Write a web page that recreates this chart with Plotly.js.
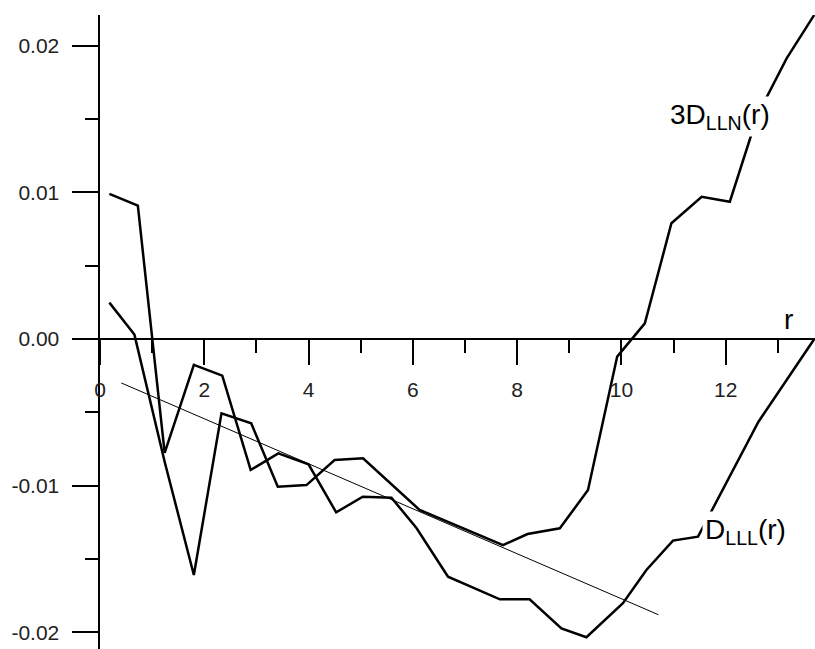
<!DOCTYPE html>
<html>
<head>
<meta charset="utf-8">
<script src="https://cdn.plot.ly/plotly-3.0.1.min.js"></script>
<style>html,body{margin:0;padding:0;background:#fff;}#chart{width:815px;height:649px;}</style>
</head>
<body>
<div id="chart"></div>
<script>
// D_LLL(r)
const rLLL = [0.18, 0.726, 1.24, 1.80, 2.345, 2.89, 3.42, 4.00, 4.53, 5.04, 5.59, 6.07, 6.675, 7.67, 8.24, 8.85, 9.33, 10.03, 10.48, 10.99, 11.47, 12.63, 13.70];
const dLLL = [0.00989, 0.00909, -0.00777, -0.00177, -0.0025, -0.00893, -0.0078, -0.00855, -0.01182, -0.01075, -0.01082, -0.01289, -0.01621, -0.01775, -0.01775, -0.01973, -0.02034, -0.01802, -0.01575, -0.01375, -0.01348, -0.00564, 0.0];
// 3D_LLN(r)
const rLLN = [0.18, 0.66, 1.24, 1.80, 2.33, 2.90, 3.41, 3.96, 4.50, 5.045, 6.13, 7.73, 8.20, 8.82, 9.36, 9.92, 10.45, 10.96, 11.54, 12.08, 12.62, 13.17, 13.70];
const dLLN = [0.00248, 0.0003, -0.00837, -0.01609, -0.00507, -0.00575, -0.01007, -0.00996, -0.00825, -0.00813, -0.01166, -0.01405, -0.0133, -0.01291, -0.0103, -0.0012, 0.00107, 0.00789, 0.0097, 0.00936, 0.01534, 0.01914, 0.0221];
// linear fit
const rFit = [0.41, 10.71];
const dFit = [-0.0030, -0.0188];

const xTickVals = [0, 2, 4, 6, 8, 10, 12];
const xTickText = ['0', '2', '4', '6', '8', '10', '12'];
const xMinorVals = [1, 3, 5, 7, 9, 11, 13];
const yTickVals = [-0.02, -0.01, 0, 0.01, 0.02];
const yTickText = ['-0.02', '-0.01', '0.00', '0.01', '0.02'];
const yMinorVals = [-0.015, -0.005, 0.005, 0.015];

const xRange = [0, 13.714];
const yRange = [-0.021139, 0.022093];
const xAxisPos = (0 - yRange[0]) / (yRange[1] - yRange[0]);

const FONT = 'Arial, "Liberation Sans", sans-serif';

const traces = [
  {x: rLLL, y: dLLL, mode: 'lines', line: {color: '#000', width: 2.5}, name: 'D_LLL', hoverinfo: 'skip'},
  {x: rLLN, y: dLLN, mode: 'lines', line: {color: '#000', width: 2.5}, name: '3D_LLN', hoverinfo: 'skip'},
  {x: rFit, y: dFit, mode: 'lines', line: {color: '#000', width: 1}, name: 'fit', hoverinfo: 'skip'}
];

const layout = {
  width: 815, height: 649,
  margin: {l: 100, r: 0, t: 15, b: 0, pad: 0},
  paper_bgcolor: '#fff', plot_bgcolor: '#fff',
  showlegend: false,
  font: {family: FONT, color: '#000'},
  xaxis: {
    range: xRange, anchor: 'free', position: xAxisPos,
    showgrid: false, zeroline: false,
    showline: true, linecolor: '#000', linewidth: 2.5,
    ticks: 'outside', ticklen: 25, tickwidth: 2, tickcolor: '#000',
    tickvals: xTickVals, ticktext: xTickText,
    tickfont: {family: FONT, size: 21, color: '#222'},
    ticklabelstandoff: 6,
    minor: {tickvals: xMinorVals, ticks: 'outside', ticklen: 13, tickwidth: 2, tickcolor: '#000', showgrid: false}
  },
  yaxis: {
    range: yRange,
    showgrid: false, zeroline: false,
    showline: true, linecolor: '#000', linewidth: 2.5,
    ticks: 'outside', ticklen: 26, tickwidth: 2, tickcolor: '#000',
    tickvals: yTickVals, ticktext: yTickText,
    tickfont: {family: FONT, size: 21, color: '#222'},
    ticklabelstandoff: 8,
    minor: {tickvals: yMinorVals, ticks: 'outside', ticklen: 13, tickwidth: 2, tickcolor: '#000', showgrid: false}
  },
  annotations: [
    {text: '3D<sub>LLN</sub>(r)', x: 10.87, y: 0.0152, xref: 'x', yref: 'y', xanchor: 'left', yanchor: 'middle',
     showarrow: false, bgcolor: '#fff', borderpad: 2, font: {family: FONT, size: 28, color: '#000'}},
    {text: 'D<sub>LLL</sub>(r)', x: 11.54, y: -0.0131, xref: 'x', yref: 'y', xanchor: 'left', yanchor: 'middle',
     showarrow: false, bgcolor: '#fff', borderpad: 2, font: {family: FONT, size: 28, color: '#000'}},
    {text: 'r', x: 13.21, y: 0.0013, xref: 'x', yref: 'y', xanchor: 'center', yanchor: 'middle',
     showarrow: false, font: {family: FONT, size: 28, color: '#000'}}
  ]
};

Plotly.newPlot('chart', traces, layout, {displayModeBar: false, staticPlot: true});
</script>
</body>
</html>
